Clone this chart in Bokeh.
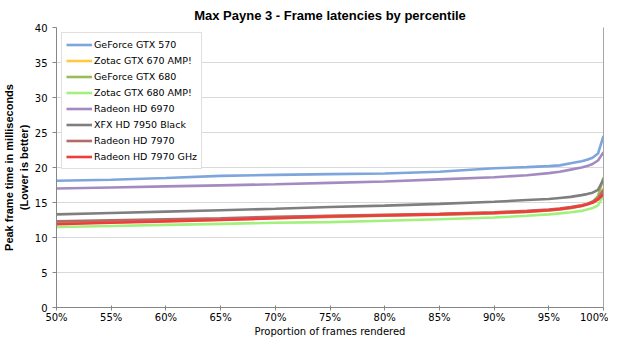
from bokeh.plotting import figure
from bokeh.models import FixedTicker, NumeralTickFormatter, LinearAxis, Range1d
from bokeh.embed import file_html
from bokeh.resources import INLINE

# Percentile positions (fraction of frames rendered)
pct = [0.50, 0.55, 0.60, 0.65, 0.70, 0.75, 0.80, 0.85, 0.90, 0.93, 0.95,
       0.96, 0.97, 0.98, 0.985, 0.99, 0.995, 1.00]

series_names = ["GeForce GTX 570", "Zotac GTX 670 AMP!", "GeForce GTX 680",
                "Zotac GTX 680 AMP!", "Radeon HD 6970", "XFX HD 7950 Black",
                "Radeon HD 7970", "Radeon HD 7970 GHz"]

gtx570 = [18.1, 18.25, 18.5, 18.8, 18.95, 19.05, 19.15, 19.4, 19.9, 20.05, 20.2,
          20.3, 20.6, 20.9, 21.1, 21.4, 22.0, 24.5]
zotac670 = [12.1, 12.3, 12.45, 12.65, 12.85, 13.05, 13.2, 13.35, 13.55, 13.75, 13.95,
            14.1, 14.3, 14.6, 14.8, 15.1, 15.7, 17.0]
gtx680 = [12.0, 12.2, 12.35, 12.55, 12.75, 12.95, 13.1, 13.25, 13.45, 13.65, 13.85,
          14.0, 14.2, 14.5, 14.75, 15.1, 15.9, 18.6]
zotac680 = [11.5, 11.65, 11.8, 11.95, 12.1, 12.2, 12.4, 12.6, 12.85, 13.1, 13.3,
            13.45, 13.6, 13.8, 14.0, 14.2, 14.6, 16.0]
hd6970 = [17.0, 17.15, 17.3, 17.45, 17.6, 17.8, 18.0, 18.3, 18.6, 18.9, 19.2,
          19.4, 19.7, 20.0, 20.2, 20.5, 21.0, 22.2]
xfx7950 = [13.3, 13.5, 13.7, 13.9, 14.1, 14.35, 14.55, 14.8, 15.1, 15.35, 15.5,
           15.65, 15.8, 16.05, 16.2, 16.4, 16.8, 18.3]
hd7970 = [12.3, 12.45, 12.6, 12.75, 12.95, 13.1, 13.25, 13.4, 13.6, 13.8, 14.0,
          14.15, 14.35, 14.6, 14.8, 15.1, 15.6, 16.8]
hd7970ghz = [11.9, 12.1, 12.3, 12.5, 12.75, 13.0, 13.15, 13.3, 13.5, 13.7, 13.9,
             14.05, 14.25, 14.5, 14.7, 14.95, 15.4, 16.2]

x_ticks = [0.50, 0.55, 0.60, 0.65, 0.70, 0.75, 0.80, 0.85, 0.90, 0.95, 1.00]
y_ticks = [0, 5, 10, 15, 20, 25, 30, 35, 40]

colors = ["#7EA6DC", "#FFC940", "#9BBB59", "#A2F07E",
          "#A38BC2", "#7F7F7F", "#B46A65", "#F23C3C"]

all_series = [gtx570, zotac670, gtx680, zotac680, hd6970, xfx7950, hd7970, hd7970ghz]

p = figure(width=608, height=339, output_backend="svg", toolbar_location=None,
           x_range=Range1d(0.5, 1.0), y_range=Range1d(0, 40),
           min_border_left=0, min_border_right=5, min_border_top=0, min_border_bottom=0)

p.title.text = "Max Payne 3 - Frame latencies by percentile"
p.title.align = "center"
p.title.text_font = "Liberation Sans"
p.title.text_font_size = "13px"
p.title.text_font_style = "bold"
p.title.text_color = "#000000"
p.title.standoff = 10
p.title.offset = 0

for name, ys, c in zip(series_names, all_series, colors):
    p.line(pct, ys, line_color=c, line_width=2.6, legend_label=name)

p.outline_line_color = None
p.background_fill_color = "white"
p.border_fill_color = "white"

p.xgrid.grid_line_color = None
p.ygrid.grid_line_color = "#D9D9D9"
p.ygrid.grid_line_width = 1

p.xaxis.ticker = FixedTicker(ticks=x_ticks)
p.xaxis.formatter = NumeralTickFormatter(format="0%")
p.yaxis.ticker = FixedTicker(ticks=y_ticks)
p.ygrid.ticker = FixedTicker(ticks=y_ticks)

for ax in (p.xaxis[0], p.yaxis[0]):
    ax.axis_line_color = "#868686"
    ax.major_tick_line_color = "#868686"
    ax.minor_tick_line_color = None
    ax.major_label_text_font = "DejaVu Sans"
    ax.major_label_text_font_size = "10px"
    ax.major_label_text_color = "#000000"
    ax.axis_label_text_color = "#000000"
    ax.axis_label_text_font_style = "normal"

p.xaxis.major_tick_in = 2
p.xaxis.major_tick_out = 3
p.xaxis.major_label_standoff = 1
p.xaxis.major_label_text_line_height = 1.0
p.yaxis.major_tick_in = 0
p.yaxis.major_tick_out = 4
p.yaxis.major_label_standoff = 5

p.xaxis.axis_label = "Proportion of frames rendered"
p.xaxis.axis_label_text_font = "DejaVu Sans"
p.xaxis.axis_label_text_font_size = "10px"
p.xaxis.axis_label_text_line_height = 1.0
p.xaxis.axis_label_standoff = 0

p.yaxis.axis_label = "Peak frame time in milliseconds\n(Lower is better)"
p.yaxis.axis_label_text_font = "Liberation Sans"
p.yaxis.axis_label_text_font_size = "11px"
p.yaxis.axis_label_text_font_style = "bold"
p.yaxis.axis_label_standoff = 2

right_axis = LinearAxis(ticker=FixedTicker(ticks=[]), axis_line_color="#A6A6A6",
                        major_tick_line_color=None, minor_tick_line_color=None,
                        major_label_text_font_size="0px")
p.add_layout(right_axis, "right")

lg = p.legend[0]
lg.location = "top_left"
lg.margin = 5
lg.padding = 4
lg.spacing = 1
lg.glyph_width = 26
lg.glyph_height = 15
lg.label_height = 15
lg.label_standoff = 2
lg.label_text_font = "DejaVu Sans"
lg.label_text_font_size = "9.5px"
lg.label_text_color = "#000000"
lg.border_line_color = "#BFBFBF"
lg.border_line_width = 1
lg.background_fill_alpha = 1.0

open("out.html", "w").write(file_html(p, INLINE))
